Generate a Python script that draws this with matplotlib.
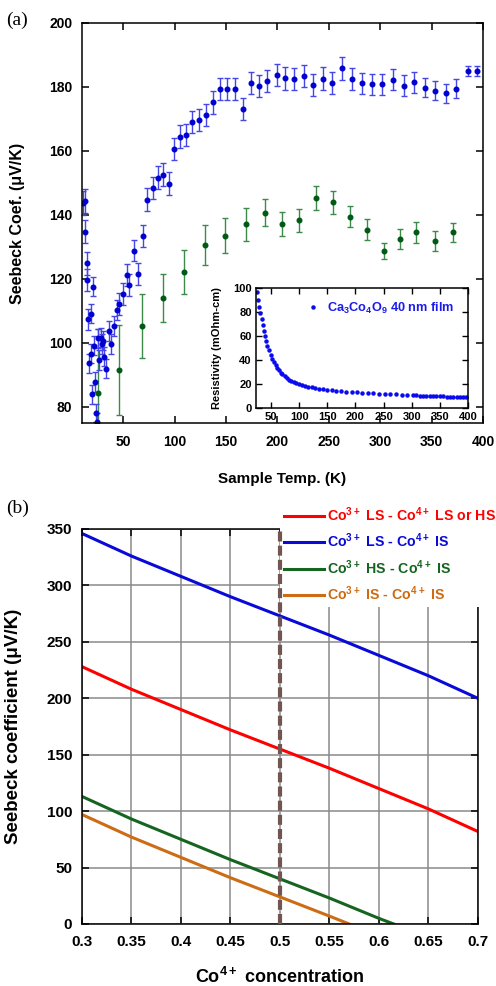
import matplotlib
matplotlib.use("Agg")
import matplotlib.pyplot as plt

# ----------------------
# Panel (a): measured Seebeck coefficient vs temperature
# ----------------------
blue_temp = [11.3, 13.3, 12.6, 15.2, 14.6, 20.4, 19.1, 16.1, 17.1, 18.5,
             21.7, 19.7, 22.9, 23.6, 24.9, 25.8, 26.8, 28.5, 29.1, 30.1,
             31.4, 33.0, 36.5, 37.9, 41.1, 43.7, 46.3, 49.5, 53.4, 56.0,
             60.5, 64.7, 69.6, 73.5, 78.7, 83.6, 88.7, 94.3, 99.4, 105.5,
             111.4, 117.2, 124.0, 130.2, 137.0, 143.8, 150.6, 158.4, 166.2, 173.9,
             182.3, 190.4, 199.2, 207.6, 216.3, 225.5, 234.8, 244.2, 253.6, 262.9,
             272.4, 282.1, 291.8, 301.8, 312.5, 322.9, 333.0, 343.3, 353.7, 364.1,
             374.1, 385.1, 394.2]
blue_seebeck = [143.8, 144.4, 134.8, 124.9, 119.7, 117.6, 109.1, 107.4, 93.6, 96.6,
                99.1, 84.0, 87.8, 78.0, 75.4, 101.5, 94.7, 101.7, 99.7, 100.7,
                95.7, 92.0, 103.8, 99.7, 105.3, 110.3, 112.2, 115.3, 121.3, 118.1,
                128.9, 121.6, 133.4, 144.8, 148.4, 151.7, 152.6, 149.8, 160.5, 164.5,
                165.0, 169.0, 169.7, 171.3, 175.2, 179.4, 179.3, 179.3, 173.1, 181.2,
                180.3, 181.8, 183.8, 182.7, 182.4, 183.4, 180.6, 182.6, 181.2, 185.8,
                182.5, 181.2, 180.9, 180.8, 182.2, 180.4, 181.4, 179.8, 178.8, 178.0,
                179.5, 185.0, 185.0]
blue_err = [3.8, 3.8, 3.6, 3.6, 3.3, 3.0, 3.0, 3.2, 3.0, 3.0,
            3.0, 3.0, 3.0, 2.8, 2.8, 3.0, 3.0, 3.0, 3.0, 3.0,
            3.0, 3.0, 3.2, 3.2, 3.2, 3.2, 3.4, 3.4, 3.4, 3.4,
            3.4, 3.4, 3.4, 3.5, 3.5, 3.5, 3.5, 3.5, 3.4, 3.5,
            3.5, 3.5, 3.5, 3.5, 3.5, 3.5, 3.5, 3.5, 3.5, 3.5,
            3.5, 3.5, 3.5, 3.5, 3.5, 3.5, 3.5, 3.5, 3.5, 3.5,
            3.5, 3.3, 3.3, 3.3, 3.3, 3.3, 3.3, 3.0, 3.0, 3.0,
            3.0, 1.7, 1.7]

green_temp = [25.3, 46.0, 68.6, 89.0, 109.1, 129.2, 149.3, 169.8, 187.8, 204.4,
              220.9, 237.4, 253.7, 270.4, 287.0, 303.5, 319.0, 335.3, 353.0, 371.2]
green_seebeck = [84.5, 91.6, 105.3, 114.2, 122.2, 130.6, 133.5, 137.1, 140.7, 137.1,
                 138.3, 145.4, 144.0, 139.4, 135.4, 128.9, 132.5, 134.6, 131.9, 134.6]
green_err = [20.0, 14.0, 10.0, 7.5, 7.0, 6.3, 5.5, 5.2, 4.2, 3.8,
             3.6, 3.7, 3.6, 3.3, 3.2, 2.5, 3.0, 3.2, 3.2, 3.0]

# inset: resistivity of the film
res_temp = [25, 27, 29, 31, 33, 35, 37, 39, 41, 43, 46, 49, 52, 55, 58, 61, 64, 67,
            70, 74, 78, 82, 86, 90, 95, 100, 105, 110, 116, 122, 128, 135, 142, 150,
            158, 166, 175, 184, 193, 202, 212, 222, 232, 242, 252, 262, 272, 282, 292,
            302, 308, 314, 320, 326, 332, 338, 344, 350, 356, 362, 368, 374, 380, 386,
            392, 397]
res_value = [97, 90, 84, 79, 74, 69, 64, 60, 56, 52, 48, 44, 41, 38, 35.5, 33.5, 31.5, 29.5,
             28, 26.5, 25, 23.5, 22.5, 21.5, 20.5, 19.8, 19, 18.4, 17.8, 17.2, 16.7, 16.2, 15.7, 15.2,
             14.8, 14.4, 14.0, 13.6, 13.3, 13.0, 12.7, 12.4, 12.2, 12.0, 11.7, 11.5, 11.3, 11.1, 10.9,
             10.6, 10.5, 10.3, 10.2, 10.1, 10.0, 9.9, 9.8, 9.7, 9.6, 9.5, 9.4, 9.3, 9.2, 9.1,
             9.0, 8.9]

# ----------------------
# Panel (b): spin-state model curves
# ----------------------
conc = [0.3, 0.35, 0.4, 0.45, 0.5, 0.55, 0.6, 0.65, 0.7]
s_ls_lshs = [228, 208, 190, 172, 155, 138, 120, 102, 82]
s_ls_is = [346, 326, 308, 290, 273, 256, 238, 220, 200]
conc_hs_is = [0.3, 0.35, 0.4, 0.45, 0.5, 0.55, 0.6, 0.615]
s_hs_is = [113, 93, 75, 57, 40, 23, 5, 0]
conc_is_is = [0.3, 0.35, 0.4, 0.45, 0.5, 0.55, 0.57]
s_is_is = [97, 77, 59, 41, 24, 7, 0]

labels_b = [r"Co$^{3+}$ LS - Co$^{4+}$ LS or HS",
            r"Co$^{3+}$ LS - Co$^{4+}$ IS",
            r"Co$^{3+}$ HS - Co$^{4+}$ IS",
            r"Co$^{3+}$ IS - Co$^{4+}$ IS"]

plt.rcParams["font.family"] = ["Liberation Sans", "DejaVu Sans"]
plt.rcParams["font.weight"] = "bold"
plt.rcParams["axes.labelweight"] = "bold"
plt.rcParams["mathtext.fontset"] = "custom"
plt.rcParams["mathtext.default"] = "regular"
plt.rcParams["axes.linewidth"] = 1.1

fig = plt.figure(figsize=(4.96, 9.86), dpi=100)

# ---- (a) ----
ax_a = fig.add_axes([0.1653, 0.571, 0.8085, 0.4057])
ax_a.errorbar(green_temp, green_seebeck, yerr=green_err, fmt="o", ms=3.3,
              mfc="#005a14", mec="#005a14", ecolor="#3c8a4a", elinewidth=1,
              capsize=2.5, capthick=1)
ax_a.errorbar(blue_temp, blue_seebeck, yerr=blue_err, fmt="o", ms=3.3,
              mfc="#0000d2", mec="#0000d2", ecolor="#4646e6", elinewidth=1,
              capsize=2.5, capthick=1)
ax_a.set_xlim(10, 400)
ax_a.set_ylim(75, 200)
ax_a.set_xticks(range(50, 401, 50))
ax_a.set_yticks(range(80, 201, 20))
ax_a.tick_params(direction="in", top=True, right=True, length=5, width=1.1,
                 labelsize=10, pad=7)
ax_a.tick_params(axis="x", pad=9)
ax_a.set_xlabel("Sample Temp. (K)", fontsize=11)
ax_a.set_ylabel("Seebeck Coef. (\u03bcV/K)", fontsize=11.5)
ax_a.xaxis.set_label_coords(0.5, -0.1225)
ax_a.yaxis.set_label_coords(-0.142, 0.5)

# inset
ax_in = fig.add_axes([0.516, 0.5862, 0.4274, 0.1217])
ax_in.set_facecolor("white")
ax_in.plot(res_temp, res_value, "o", ms=2.2, color="#0a0aee",
           label=r"Ca$_3$Co$_4$O$_9$ 40 nm film")
ax_in.set_xlim(23, 400)
ax_in.set_ylim(0, 100)
ax_in.set_xticks(range(50, 401, 50))
ax_in.set_yticks(range(0, 101, 20))
ax_in.tick_params(direction="in", top=True, right=True, length=4, width=1,
                  labelsize=8, pad=3)
ax_in.set_ylabel("Resistivity (mOhm-cm)", fontsize=8)
ax_in.yaxis.set_label_coords(-0.16, 0.5)
ax_in.legend(loc="center left", bbox_to_anchor=(0.24, 0.83), frameon=False,
             handlelength=1, handletextpad=0.6, borderpad=0, borderaxespad=0,
             fontsize=9.2, labelcolor="#1a1aee")

# ---- (b) ----
ax_b = fig.add_axes([0.1653, 0.0629, 0.798, 0.4006])
ax_b.plot(conc, s_ls_lshs, color="#ff0000", lw=2.2)
ax_b.plot(conc, s_ls_is, color="#0a0ad8", lw=2.2)
ax_b.plot(conc_hs_is, s_hs_is, color="#156420", lw=2.2)
ax_b.plot(conc_is_is, s_is_is, color="#cc6c14", lw=2.2)
ax_b.axvline(0.5, color="#705550", lw=3, dashes=(2.4, 1.0), zorder=6)
ax_b.set_xlim(0.3, 0.7)
ax_b.set_ylim(0, 350)
ax_b.set_xticks(conc)
ax_b.set_xticklabels(["0.3", "0.35", "0.4", "0.45", "0.5", "0.55", "0.6", "0.65", "0.7"])
ax_b.set_yticks(range(0, 351, 50))
ax_b.grid(True, color="#8a8a8a", lw=1.1)
ax_b.set_axisbelow(True)
ax_b.tick_params(direction="in", top=True, right=True, length=5, width=1.1,
                 labelsize=11, pad=7)
ax_b.tick_params(axis="x", pad=8)
ax_b.set_xlabel(r"Co$^{4+}$ concentration", fontsize=13)
ax_b.set_ylabel("Seebeck coefficient (\u03bcV/K)", fontsize=13.5)
ax_b.xaxis.set_label_coords(0.5, -0.108)
ax_b.yaxis.set_label_coords(-0.152, 0.5)
leg = ax_b.legend(ax_b.get_lines()[:4], labels_b, loc="upper left",
                  bbox_to_anchor=(0.5, 1.071), frameon=True, fancybox=False,
                  framealpha=1, edgecolor="none", facecolor="white",
                  fontsize=10.2, handlelength=2.8, handletextpad=0.2,
                  labelspacing=0.55, borderpad=0.3, borderaxespad=0,
                  labelcolor="linecolor")

fig.text(0.012, 0.9797, "(a)", family="Liberation Serif", weight="normal",
         fontsize=14, va="center")
fig.text(0.012, 0.4848, "(b)", family="Liberation Serif", weight="normal",
         fontsize=14, va="center")

fig.savefig("out.png", dpi=100)
